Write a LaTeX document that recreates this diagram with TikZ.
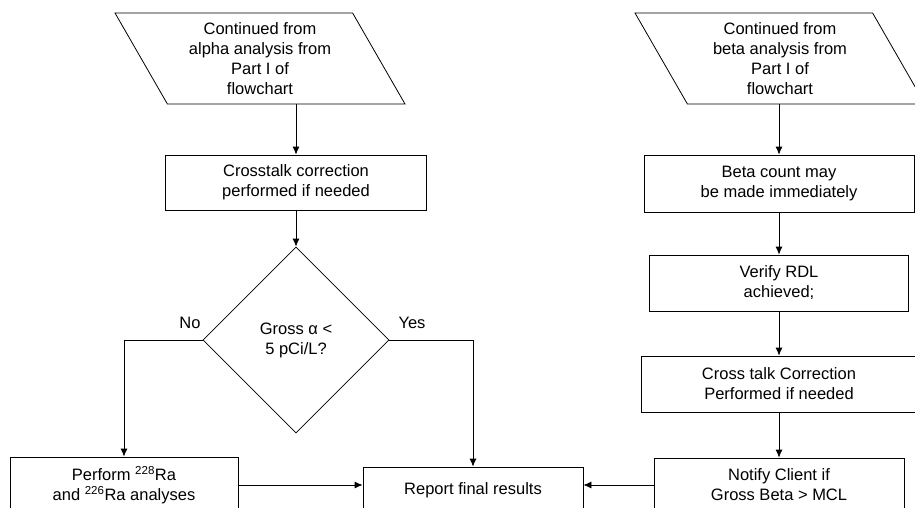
\documentclass[tikz,border=0pt]{standalone}
\usepackage{fontspec}
\setmainfont{Liberation Sans}
\usetikzlibrary{shapes.geometric,arrows.meta}

\begin{document}
\begin{tikzpicture}[x=1pt,y=-1pt,
  font=\fontsize{16.5}{20}\selectfont,
  box/.style={draw, line width=0.8pt, align=center, inner sep=0pt},
  inbox/.style={draw, line width=0.8pt, align=center, inner sep=0pt,
    trapezium, trapezium left angle=126, trapezium right angle=54,
    trapezium stretches body, minimum height=91pt, minimum width=290pt},
  decide/.style={draw, diamond, line width=0.8pt, align=center, inner sep=0pt,
    minimum width=186pt, minimum height=186pt},
  flow/.style={line width=0.8pt, -{Latex[length=8pt,width=7pt]}}]
\useasboundingbox (0,0) rectangle (915,507);
% alpha side
\node[inbox] (inA) at (260,58.5) {Continued from\\alpha analysis from\\Part I of\\flowchart};
\node[box, minimum width=261pt, minimum height=55pt] (cross) at (296,182.5) {Crosstalk correction\\performed if needed};
\node[decide] (dia) at (296,340) {Gross α <\\5 pCi/L?};
\node (no) at (190,323) {No};
\node (yes) at (412,323) {Yes};
\node[box, minimum width=228pt, minimum height=56pt] (perform) at (124,485) {Perform \textsuperscript{228}Ra\\and \textsuperscript{226}Ra analyses};
\node[box, minimum width=220pt, minimum height=46pt] (report) at (473,490) {Report final results};
% beta side
\node[inbox] (inB) at (780,58.5) {Continued from\\beta analysis from\\Part I of\\flowchart};
\node[box, minimum width=270pt, minimum height=57pt] (beta) at (779,183.5) {Beta count may\\be made immediately};
\node[box, minimum width=259pt, minimum height=56pt] (verify) at (779,283) {Verify RDL\\achieved;};
\node[box, minimum width=276pt, minimum height=56pt] (ctalk) at (779,384) {Cross talk Correction\\Performed if needed};
\node[box, minimum width=250pt, minimum height=54pt] (notify) at (779,485) {Notify Client if\\Gross Beta > MCL};
% connectors
\draw[flow] (inA.south -| cross.north) -- (cross.north);
\draw[flow] (cross.south) -- (dia.north);
\draw[flow] (dia.west) -| (perform.north);
\draw[flow] (dia.east) -| (report.north);
\draw[flow] (perform.east) -- (perform.east -| report.west);
\draw[flow] (notify.west) -- (notify.west -| report.east);
\draw[flow] (inB.south -| beta.north) -- (beta.north);
\draw[flow] (beta.south) -- (verify.north);
\draw[flow] (verify.south) -- (ctalk.north);
\draw[flow] (ctalk.south) -- (notify.north);
\end{tikzpicture}
\end{document}
